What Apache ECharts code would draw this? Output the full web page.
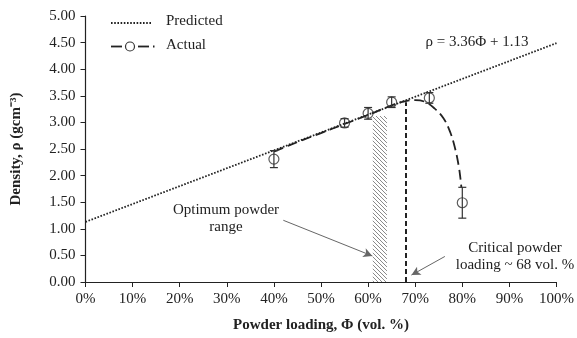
<!DOCTYPE html>
<html>
<head>
<meta charset="utf-8">
<script src="https://cdn.jsdelivr.net/npm/echarts@6/dist/echarts.min.js"></script>
<style>
html,body{margin:0;padding:0;background:#fff;}
#c{width:577px;height:338px;}
</style>
</head>
<body>
<div id="c"></div>
<script>
// ---- data ----
var xTicks = [0,10,20,30,40,50,60,70,80,90,100];
var yTicks = [0,0.5,1,1.5,2,2.5,3,3.5,4,4.5,5];
var predictedX = [0, 100];
var predictedY = [1.13, 4.49];
var actualX = [40, 55, 60, 65, 73, 80];
var actualY = [2.31, 2.99, 3.17, 3.38, 3.46, 1.49];
var actualErr = [0.16, 0.08, 0.11, 0.10, 0.10, 0.29];
var curveX = [40, 45, 50, 55, 60, 65, 68, 70, 72, 74, 76, 77.5, 78.5, 79.2, 79.6, 79.8];
var curveY = [2.45, 2.63, 2.80, 2.97, 3.14, 3.32, 3.40, 3.42, 3.39, 3.27, 3.08, 2.80, 2.50, 2.20, 1.95, 1.78];
var optimumRange = [61, 64, 3.12];
var criticalLoading = [68, 3.38];
var arrow1 = [[42, 1.16], [60.9, 0.49]];
var arrow2 = [[76.3, 0.48], [69.2, 0.13]];

function zip(a, b) { return a.map(function (v, i) { return [v, b[i]]; }); }

// hatch pattern
var pc = document.createElement('canvas');
pc.width = 4; pc.height = 4;
var g = pc.getContext('2d');
g.fillStyle = '#fff'; g.fillRect(0, 0, 4, 4);
g.strokeStyle = '#8a8a8a'; g.lineWidth = 1;
g.beginPath();
g.moveTo(-1, -1); g.lineTo(5, 5);
g.moveTo(-1, 3); g.lineTo(1, 5);
g.moveTo(3, -1); g.lineTo(5, 1);
g.stroke();

var FONT = '"Liberation Serif", "Times New Roman", serif';
var chart = echarts.init(document.getElementById('c'));
chart.setOption({
  animation: false,
  backgroundColor: '#fff',
  textStyle: { fontFamily: FONT, color: '#222' },
  grid: { left: 85.5, right: 16, top: 16, bottom: 54 },
  xAxis: {
    type: 'value', min: 0, max: 100, interval: 10,
    name: 'Powder loading, Φ (vol. %)', nameLocation: 'middle', nameGap: 36,
    nameTextStyle: { fontFamily: FONT, fontWeight: 'bold', fontSize: 15, color: '#222' },
    axisLine: { lineStyle: { color: '#222', width: 1.2 } },
    axisTick: { length: 5, lineStyle: { color: '#222' } },
    axisLabel: { formatter: '{value}%', fontFamily: FONT, fontSize: 15, color: '#222', margin: 10 },
    splitLine: { show: false }
  },
  yAxis: {
    type: 'value', min: 0, max: 5, interval: 0.5,
    name: 'Density, ρ (gcm⁻³)', nameLocation: 'middle', nameGap: 62,
    nameTextStyle: { fontFamily: FONT, fontWeight: 'bold', fontSize: 15, color: '#222' },
    axisLine: { show: true, lineStyle: { color: '#222', width: 1.2 } },
    axisTick: { show: true, length: 5, lineStyle: { color: '#222' } },
    axisLabel: { formatter: function (v) { return v.toFixed(2); }, fontFamily: FONT, fontSize: 15, color: '#222', margin: 10 },
    splitLine: { show: false }
  },
  series: [
    {
      name: 'optimum', type: 'custom', silent: true, z: 1,
      data: [optimumRange],
      renderItem: function (params, api) {
        var p0 = api.coord([api.value(0), api.value(2)]);
        var p1 = api.coord([api.value(1), 0]);
        return { type: 'rect', shape: { x: p0[0], y: p0[1], width: p1[0] - p0[0], height: p1[1] - p0[1] },
          style: { fill: { image: pc, repeat: 'repeat' }, stroke: null } };
      }
    },
    {
      name: 'Predicted', type: 'line', data: zip(predictedX, predictedY),
      symbol: 'none', z: 3,
      lineStyle: { color: '#222', width: 1.8, type: [1.6, 1.6] }
    },
    {
      name: 'Actual', type: 'line', data: zip(curveX, curveY), smooth: 0.4,
      symbol: 'none', z: 4,
      lineStyle: { color: '#222', width: 1.8, type: [10, 5] },
      markLine: {
        silent: true, symbol: 'none', label: { show: false },
        lineStyle: { color: '#222', width: 2, type: [5, 3] },
        data: [[{ coord: [criticalLoading[0], 0] }, { coord: [criticalLoading[0], criticalLoading[1]] }]]
      }
    },
    {
      name: 'errbars', type: 'custom', z: 5, silent: true,
      data: actualX.map(function (x, i) { return [x, actualY[i], actualErr[i]]; }),
      renderItem: function (params, api) {
        var x = api.value(0), y = api.value(1), e = api.value(2);
        var top = api.coord([x, y + e]), bot = api.coord([x, y - e]);
        var w = 4;
        var st = { stroke: '#333', lineWidth: 1.2 };
        return { type: 'group', children: [
          { type: 'line', shape: { x1: top[0], y1: top[1], x2: bot[0], y2: bot[1] }, style: st },
          { type: 'line', shape: { x1: top[0] - w, y1: top[1], x2: top[0] + w, y2: top[1] }, style: st },
          { type: 'line', shape: { x1: bot[0] - w, y1: bot[1], x2: bot[0] + w, y2: bot[1] }, style: st }
        ] };
      }
    },
    {
      name: 'points', type: 'scatter', z: 6, data: zip(actualX, actualY),
      symbol: 'circle', symbolSize: 10,
      itemStyle: { color: 'rgba(255,255,255,0)', borderColor: '#333', borderWidth: 1.2 }
    },
    {
      name: 'arrows', type: 'line', data: [], z: 7,
      markLine: {
        silent: true, symbol: ['none', 'arrow'], symbolSize: [7, 9], label: { show: false },
        lineStyle: { color: '#666', width: 1, type: 'solid' },
        data: [
          [{ coord: arrow1[0] }, { coord: arrow1[1] }],
          [{ coord: arrow2[0] }, { coord: arrow2[1] }]
        ]
      }
    }
  ],
  graphic: [
    // legend
    { type: 'line', shape: { x1: 111, y1: 23, x2: 151, y2: 23 }, style: { stroke: '#222', lineWidth: 1.8, lineDash: [1.6, 1.6] } },
    { type: 'text', left: 166, top: 14, style: { text: 'Predicted', font: '15px ' + FONT, fill: '#222' } },
    { type: 'line', shape: { x1: 111, y1: 46.5, x2: 122, y2: 46.5 }, style: { stroke: '#222', lineWidth: 1.8 } },
    { type: 'circle', shape: { cx: 130, cy: 46.5, r: 4.5 }, style: { fill: 'none', stroke: '#333', lineWidth: 1.2 } },
    { type: 'line', shape: { x1: 138, y1: 46.5, x2: 149, y2: 46.5 }, style: { stroke: '#222', lineWidth: 1.8 } },
    { type: 'line', shape: { x1: 153, y1: 46.5, x2: 154.5, y2: 46.5 }, style: { stroke: '#222', lineWidth: 1.8 } },
    { type: 'text', left: 166, top: 37.5, style: { text: 'Actual', font: '15px ' + FONT, fill: '#222' } },
    // annotations
    { type: 'text', x: 477, y: 42, style: { text: 'ρ = 3.36Φ + 1.13', font: '15px ' + FONT, fill: '#222', align: 'center', verticalAlign: 'middle' } },
    { type: 'text', x: 226, y: 219, style: { text: 'Optimum powder\nrange', font: '15px ' + FONT, fill: '#222', align: 'center', verticalAlign: 'middle', lineHeight: 17 } },
    { type: 'text', x: 515, y: 257, style: { text: 'Critical powder\nloading ~ 68 vol. %', font: '15px ' + FONT, fill: '#222', align: 'center', verticalAlign: 'middle', lineHeight: 17 } }
  ]
});
</script>
</body>
</html>
